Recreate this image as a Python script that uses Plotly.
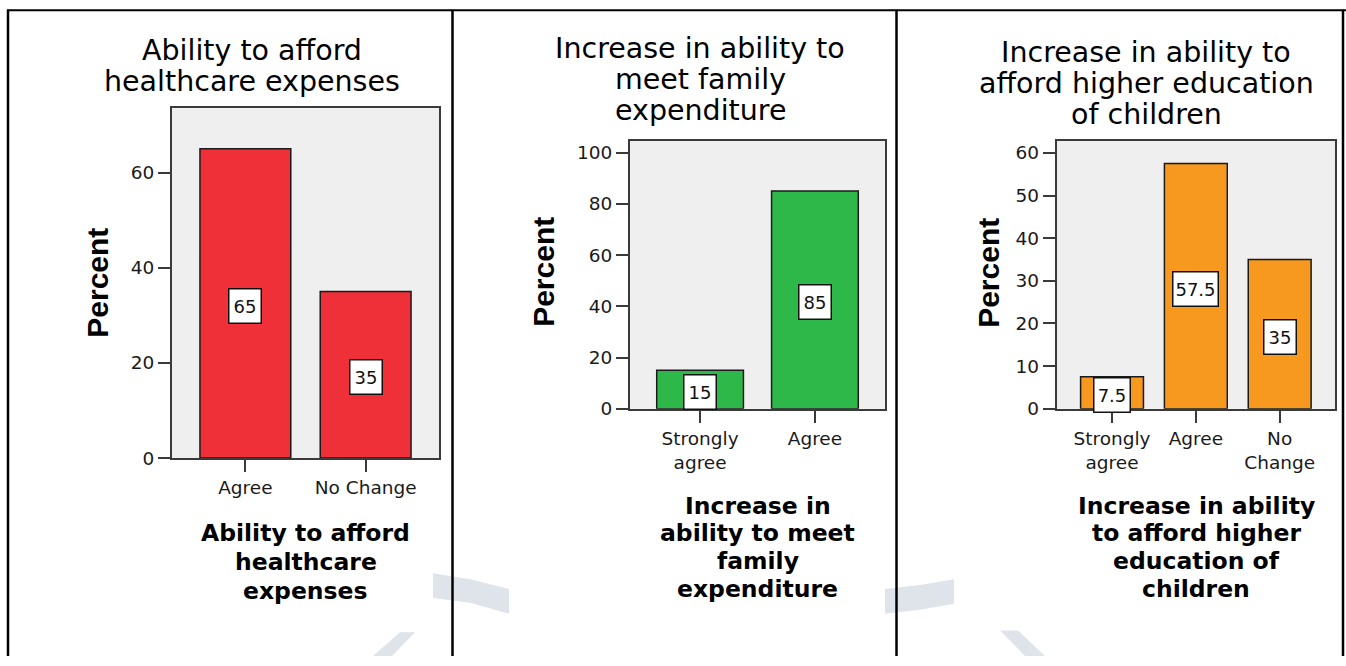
import plotly.graph_objects as go

W, H = 1346, 666

# ---------------- data ----------------
titles1 = ["Ability to afford", "healthcare expenses"]
cats1 = ["Agree", "No Change"]
ticktext1 = ["Agree", "No Change"]
vals1 = [65, 35]
yticks1 = [0, 20, 40, 60]
xtitle1 = ["Ability to afford", "healthcare", "expenses"]

titles2 = ["Increase in ability to", "meet family", "expenditure"]
cats2 = ["Strongly agree", "Agree"]
ticktext2 = ["Strongly<br>agree", "Agree"]
vals2 = [15, 85]
yticks2 = [0, 20, 40, 60, 80, 100]
xtitle2 = ["Increase in", "ability to meet", "family", "expenditure"]

titles3 = ["Increase in ability to", "afford higher education", "of children"]
cats3 = ["Strongly agree", "Agree", "No Change"]
ticktext3 = ["Strongly<br>agree", "Agree", "No<br>Change"]
vals3 = [7.5, 57.5, 35]
yticks3 = [0, 10, 20, 30, 40, 50, 60]
xtitle3 = ["Increase in ability", "to afford higher", "education of", "children"]

ylabel = "Percent"

# ---------------- layout helpers (pixels -> paper) ----------------
def X(px):
    return px / W

def Y(py):
    return 1 - py / H

TICK_FONT = dict(family="DejaVu Sans", size=18.5, color="#1a1a1a")
TITLE_FONT = dict(family="DejaVu Sans", size=28.5, color="#000000")
XT_FONT = dict(family="DejaVu Sans", size=23.5, color="#000000")
YT_FONT = dict(family="Liberation Sans", size=30, color="#000000")

panels = [
    dict(cats=cats1, ticktext=ticktext1, vals=vals1, yticks=yticks1, titles=titles1, xtitle=xtitle1,
         color="#EF3039", box=(172, 439, 110, 465), ymax=73.5, pad=0.61, bw=0.755,
         title_cx=252, title_base=[62, 93], xt_cx=305.5, xt_base=[550, 579, 608], yl=(98, 287)),
    dict(cats=cats2, ticktext=ticktext2, vals=vals2, yticks=yticks2, titles=titles2, xtitle=xtitle2,
         color="#2EB84A", box=(630, 885, 142.7, 415), ymax=104.7, pad=0.61, bw=0.755,
         title_cx=700, title_base=[60, 91, 122], xt_cx=757.5, xt_base=[521.7, 550, 578.3, 606.7], yl=(544, 276)),
    dict(cats=cats3, ticktext=ticktext3, vals=vals3, yticks=yticks3, titles=titles3, xtitle=xtitle3,
         color="#F7991E", box=(1056.7, 1335, 142.7, 415), ymax=62.9, pad=0.66, bw=0.75,
         title_cx=1146, title_base=[63.3, 95, 126.7], xt_cx=1196, xt_base=[521.7, 550, 578.3, 606.7], yl=(989, 277)),
]

fig = go.Figure()
layout = dict(width=W, height=H, margin=dict(l=0, r=0, t=0, b=0),
              paper_bgcolor="white", plot_bgcolor="#EFEFEF", showlegend=False)
annotations = []
shapes = []

for i, p in enumerate(panels, start=1):
    sfx = "" if i == 1 else str(i)
    xa, ya = "x" + sfx, "y" + sfx
    x0, x1, ytop, ybot = p["box"]
    fig.add_trace(go.Bar(
        x=p["cats"], y=p["vals"], xaxis=xa, yaxis=ya, width=p["bw"],
        marker=dict(color=p["color"], line=dict(color="#1a1a1a", width=1.5)),
        hoverinfo="skip"))
    n = len(p["cats"])
    common = dict(showline=True, mirror=True, linecolor="#3a3a3a", linewidth=2,
                  ticks="outside", ticklen=12, tickwidth=2, tickcolor="#3a3a3a",
                  showgrid=False, zeroline=False, tickfont=TICK_FONT, fixedrange=True)
    layout["xaxis" + sfx] = dict(common, domain=[X(x0), X(x1)], anchor=ya, type="category",
                                 categoryorder="array", categoryarray=p["cats"],
                                 range=[-p["pad"], n - 1 + p["pad"]],
                                 tickmode="array", tickvals=p["cats"], ticktext=p["ticktext"])
    layout["yaxis" + sfx] = dict(common, domain=[Y(ybot), Y(ytop)], anchor=xa,
                                 range=[0, p["ymax"]], tickmode="array", tickvals=p["yticks"],
                                 ticktext=[str(t) for t in p["yticks"]])
    # value labels
    for c, v in zip(p["cats"], p["vals"]):
        txt = f"{v:g}"
        nd = sum(ch.isdigit() for ch in txt)
        ndot = txt.count(".")
        annotations.append(dict(
            x=c, y=v / 2, xref=xa, yref=ya, text=txt, showarrow=False,
            font=dict(family="DejaVu Sans", size=18, color="#111111"),
            bgcolor="white", bordercolor="#111111", borderwidth=1.5, borderpad=1,
            width=9 * nd + 4 * ndot + 11, height=31, yshift=-2.5))
    # top titles (one annotation per line for line spacing)
    for line, base in zip(p["titles"], p["title_base"]):
        annotations.append(dict(x=X(p["title_cx"]), y=Y(base - 0.36 * TITLE_FONT["size"]),
                                xref="paper", yref="paper", text=line, showarrow=False,
                                xanchor="center", yanchor="middle", font=TITLE_FONT))
    # x axis titles
    for line, base in zip(p["xtitle"], p["xt_base"]):
        annotations.append(dict(x=X(p["xt_cx"]), y=Y(base - 0.36 * XT_FONT["size"]),
                                xref="paper", yref="paper", text="<b>" + line + "</b>", showarrow=False,
                                xanchor="center", yanchor="middle", font=XT_FONT))
    # y axis title
    annotations.append(dict(x=X(p["yl"][0]), y=Y(p["yl"][1]), xref="paper", yref="paper",
                            text="<b>" + ylabel + "</b>", textangle=-90, showarrow=False,
                            xanchor="center", yanchor="middle", font=YT_FONT))

# table frame lines
line_style = dict(color="black", width=2.5)
shapes.append(dict(type="line", xref="paper", yref="paper", x0=X(7), x1=X(1346), y0=Y(10.5), y1=Y(10.5),
                   line=dict(color="black", width=2)))
for vx in [8, 452.5, 896.5, 1343]:
    shapes.append(dict(type="line", xref="paper", yref="paper", x0=X(vx), x1=X(vx), y0=Y(10), y1=Y(666),
                       line=line_style))

# faint watermark fragments
wm = "#DEE4EA"
def poly(pts):
    return "M " + " L ".join(f"{X(a):.5f},{Y(b):.5f}" for a, b in pts) + " Z"
for pts in [
    [(433, 582), (470, 588), (509, 598), (509, 623), (470, 612), (433, 607)],
    [(885, 598), (920, 594), (954, 588), (954, 613), (920, 619), (885, 623)],
    [(400, 642), (415, 642), (392, 666), (373, 666)],
    [(1000, 640), (1018, 640), (1045, 666), (1025, 666)],
]:
    shapes.append(dict(type="path", xref="paper", yref="paper", path=poly(pts),
                       fillcolor=wm, line=dict(width=0), layer="below"))

layout["annotations"] = annotations
layout["shapes"] = shapes
fig.update_layout(**layout)
fig.write_html("out.html")
